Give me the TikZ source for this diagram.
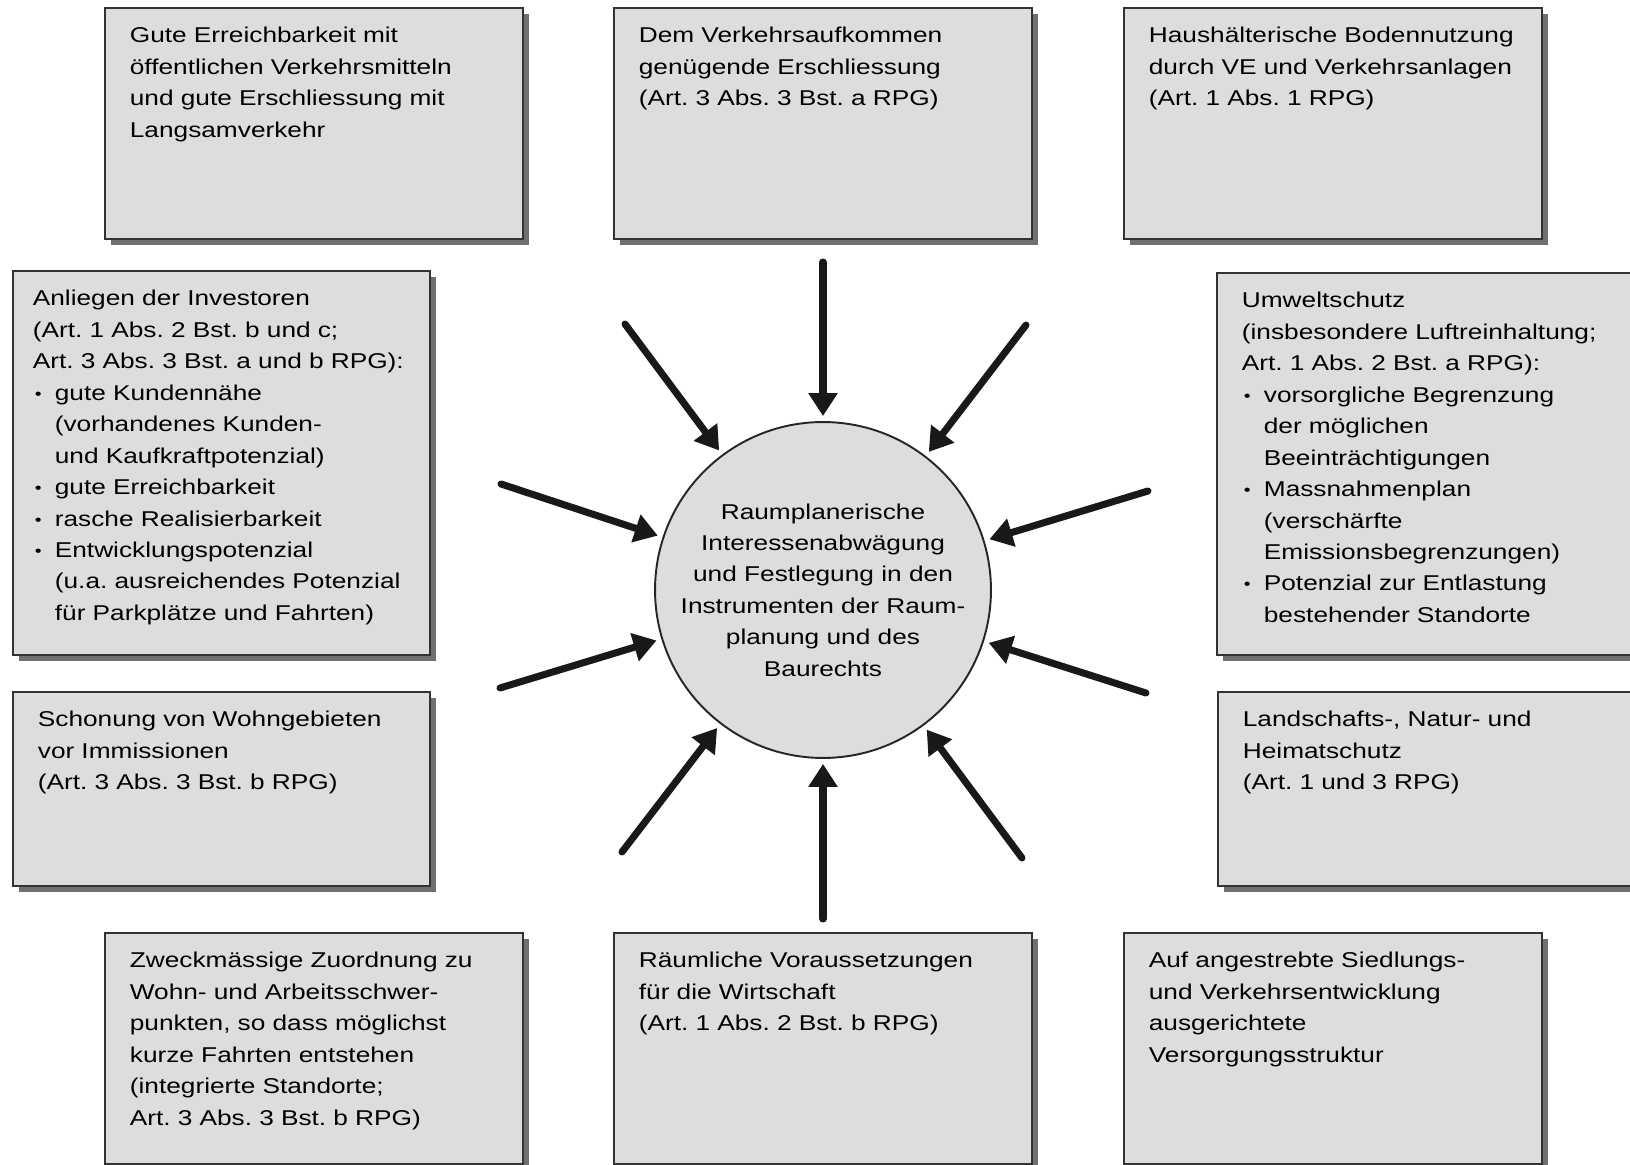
\documentclass[tikz,border=0pt]{standalone}
\usepackage{fontspec}
\setmainfont{Liberation Sans}[FakeStretch=1.225]
\usetikzlibrary{arrows.meta}
\usetikzlibrary{shadows}
\definecolor{boxgray}{RGB}{221,221,221}
\definecolor{shadowgray}{RGB}{112,112,112}
\newcommand\bul{\hspace*{0.04cm}\makebox[0.4cm][l]{\raisebox{0.02cm}{\fontsize{9}{9}\selectfont •}}}
\newcommand\ind{\hspace*{0.44cm}}
\tikzset{infobox/.style={% grey box, text at top left
        draw=black!80, line width=1pt, fill=boxgray,
        anchor=north west, inner sep=0pt, align=left,
        text width=8.36cm, text height=0.7cm, text depth=3.92cm,
        drop shadow={shadow xshift=0.12cm, shadow yshift=-0.12cm, fill=shadowgray, opacity=1},
        execute at begin node={\frenchspacing\leftskip=0.5cm}
    },
    flow/.style={
        draw=black!90, line width=4pt, line cap=round,
        -{Triangle[width=0.56cm,length=0.46cm]}, shorten >=0.1cm
    }}

\begin{document}
\begin{tikzpicture}[x=0.02cm,y=-0.02cm,font=\fontsize{12.2}{17.9}\selectfont]
      \useasboundingbox (0,0) rectangle (1630,1165);
      % top row
      \node[infobox] (oev) at (104,7) {Gute Erreichbarkeit mit\\öffentlichen Verkehrsmitteln\\und gute Erschliessung mit\\Langsamverkehr};
      \node[infobox] (erschl) at (613,7) {Dem Verkehrsaufkommen\\genügende Erschliessung\\(Art. 3 Abs. 3 Bst. a RPG)};
      \node[infobox] (boden) at (1123,7) {Haushälterische Bodennutzung\\durch VE und Verkehrsanlagen\\(Art. 1 Abs. 1 RPG)};
      % middle rows
      \node[infobox,text width=8.34cm,text depth=6.98cm,execute at begin node={\leftskip=0.4cm}] (invest) at (12,270) {Anliegen der Investoren\\(Art. 1 Abs. 2 Bst. b und c;\\Art. 3 Abs. 3 Bst. a und b RPG):\\
            \bul gute Kundennähe\\\ind (vorhandenes Kunden-\\\ind und Kaufkraftpotenzial)\\
            \bul gute Erreichbarkeit\\\bul rasche Realisierbarkeit\\\bul Entwicklungspotenzial\\
            \ind (u.a. ausreichendes Potenzial\\\ind für Parkplätze und Fahrten)};
      \node[infobox,text width=8.6cm,text depth=6.94cm] (umwelt) at (1216,272) {Umweltschutz\\(insbesondere Luftreinhaltung;\\Art. 1 Abs. 2 Bst. a RPG):\\
            \bul vorsorgliche Begrenzung\\\ind der möglichen\\\ind Beeinträchtigungen\\
            \bul Massnahmenplan\\\ind (verschärfte\\\ind Emissionsbegrenzungen)\\
            \bul Potenzial zur Entlastung\\\ind bestehender Standorte};
      \node[infobox,text width=8.34cm,text depth=3.18cm] (wohn) at (12,691) {Schonung von Wohngebieten\\vor Immissionen\\(Art. 3 Abs. 3 Bst. b RPG)};
      \node[infobox,text width=8.6cm,text depth=3.18cm] (natur) at (1217,691) {Landschafts-, Natur- und\\Heimatschutz\\(Art. 1 und 3 RPG)};
      % bottom row
      \node[infobox] (zuord) at (104,932) {Zweckmässige Zuordnung zu\\Wohn- und Arbeitsschwer-\\punkten, so dass möglichst\\kurze Fahrten entstehen\\(integrierte Standorte;\\Art. 3 Abs. 3 Bst. b RPG)};
      \node[infobox] (wirtsch) at (613,932) {Räumliche Voraussetzungen\\für die Wirtschaft\\(Art. 1 Abs. 2 Bst. b RPG)};
      \node[infobox] (versorg) at (1123,932) {Auf angestrebte Siedlungs-\\und Verkehrsentwicklung\\ausgerichtete\\Versorgungsstruktur};
      % centre
      \node[circle,draw=black!85,line width=1.1pt,fill=boxgray,minimum size=6.72cm,inner sep=0pt,align=center] (abw) at (823,590)
            {Raumplanerische\\Interessenabwägung\\und Festlegung in den\\Instrumenten der Raum-\\planung und des\\Baurechts};
      % arrows into the circle
      \coordinate (a1) at (823,262);
      \coordinate (a2) at (1026,325);
      \coordinate (a3) at (1148,491);
      \coordinate (a4) at (1146,693);
      \coordinate (a5) at (1022,858);
      \coordinate (a6) at (823,919);
      \coordinate (a7) at (622,852);
      \coordinate (a8) at (500,688);
      \coordinate (a9) at (501,484);
      \coordinate (a10) at (625,324);
      \foreach \X in {1,...,10}
      {\draw[flow] (a\X) -- (abw);}
\end{tikzpicture}
\end{document}
